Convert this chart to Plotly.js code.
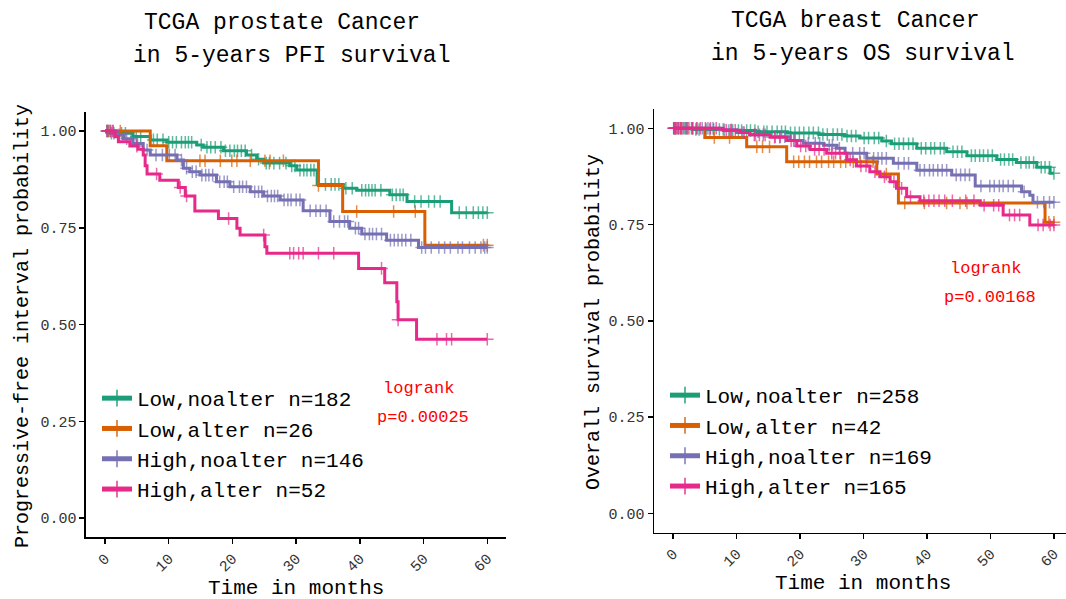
<!DOCTYPE html>
<html>
<head>
<meta charset="utf-8">
<script src="https://cdn.plot.ly/plotly-3.0.1.min.js"></script>
<style>
  html, body { margin: 0; padding: 0; background: #ffffff; }
  #chart { width: 1066px; height: 599px; }
</style>
</head>
<body>
<div id="chart"></div>
<script>
// ---------------- DATA ----------------
const groupNames = ["Low,noalter", "Low,alter", "High,noalter", "High,alter"];
const prostateN = [182, 26, 146, 52];
const breastN = [258, 42, 169, 165];
const xTicks = [0, 10, 20, 30, 40, 50, 60];
const yTicks = [0, 0.25, 0.5, 0.75, 1];
const yTickText = ["0.00", "0.25", "0.50", "0.75", "1.00"];

// Prostate (PFI) - step times (months) and survival after each step
const proLowNoT = [0, 0.8, 4.4, 7.1, 9.7, 14.4, 15.4, 18.6, 22.2, 23.8, 24.9, 29.0, 30.1, 33.3, 37.4, 39.5, 44.7, 47.4, 54.4];
const proLowNoS = [1, 0.994, 0.986, 0.977, 0.971, 0.964, 0.958, 0.949, 0.938, 0.927, 0.917, 0.910, 0.899, 0.862, 0.852, 0.847, 0.835, 0.818, 0.789];
const proLowNoC = [0.3,0.6,1.0,1.4,2.6,3.2,4.9,5.6,7.6,8.2,9.1,10.0,10.6,11.2,12.0,12.6,13.1,13.6,15.1,16.0,16.6,17.3,18.2,18.9,19.6,20.3,20.8,21.4,22.0,23.0,24.1,25.3,25.8,26.5,27.4,28.4,29.3,29.8,30.6,31.2,31.7,32.3,32.8,34.6,35.5,36.1,36.7,37.8,38.8,40.3,40.9,41.4,41.9,42.4,43.3,45.1,45.7,46.3,46.8,48.6,49.6,50.8,51.7,52.6,55.6,56.7,57.8,58.6,59.3,60.0];

const proLowAltT = [0, 7.1, 9.7, 33.5, 37.3, 50.2];
const proLowAltS = [1, 0.962, 0.923, 0.859, 0.792, 0.705];
const proLowAltC = [0.5,2.4,14.9,15.7,18.1,19.9,20.7,22.8,25.1,25.9,28.0,33.5,39.5,45.3,48.7,59.4,60.0];

const proHighNoT = [0, 1.8, 2.9, 4.4, 6.0, 7.1, 11.3, 12.3, 13.3, 14.9, 17.5, 19.6, 22.8, 24.9, 27.5, 31.1, 35.3, 38.4, 40.3, 44.2, 49.2];
const proHighNoS = [1, 0.99, 0.98, 0.968, 0.951, 0.938, 0.925, 0.904, 0.895, 0.886, 0.869, 0.856, 0.843, 0.832, 0.822, 0.794, 0.766, 0.749, 0.734, 0.718, 0.699];
const proHighNoC = [0.4,0.9,1.3,2.2,3.4,4.1,5.1,6.6,8.0,9.0,10.1,11.0,12.0,12.8,13.7,14.3,15.2,15.8,16.3,16.9,18.0,18.7,19.2,20.2,21.1,21.6,22.2,23.5,24.1,24.6,25.5,26.1,26.6,27.1,28.1,28.7,29.2,30.0,30.6,32.2,33.1,33.8,34.7,35.9,36.8,37.6,38.1,39.3,39.8,40.8,41.5,42.0,42.6,43.4,44.8,45.4,46.0,46.6,47.2,48.0,49.7,50.3,51.2,52.4,53.3,54.2,55.4,56.1,57.2,58.1,59.0,59.6,60.0];

const proHighAltT = [0, 1.6, 2.1, 3.9, 5.2, 6.0, 6.3, 6.6, 8.6, 11.5, 12.6, 14.1, 17.8, 20.7, 21.2, 25.1, 25.4, 39.8, 43.9, 45.8, 46.0, 48.9];
const proHighAltS = [1, 0.985, 0.972, 0.961, 0.953, 0.938, 0.91, 0.889, 0.873, 0.854, 0.832, 0.793, 0.774, 0.749, 0.731, 0.701, 0.684, 0.645, 0.608, 0.559, 0.512, 0.462];
const proHighAltC = [0.3,0.8,1.2,5.0,8.1,11.8,12.8,19.4,24.9,29.0,29.6,30.4,31.1,33.5,35.9,43.4,46.0,52.1,53.6,54.4,60.0];

// Breast (OS)
const brLowNoT = [0, 3, 8, 13, 18, 23, 27, 29.4, 32.9, 34.4, 38.4, 43.1, 46.3, 51.0, 54.1, 57.3, 59.4];
const brLowNoS = [1, 0.997, 0.994, 0.991, 0.988, 0.984, 0.980, 0.975, 0.967, 0.960, 0.948, 0.939, 0.929, 0.919, 0.911, 0.899, 0.883];
const brLowNoC = [0.1,0.4,0.9,1.3,1.8,2.2,2.9,3.6,4.1,5.2,5.8,6.4,7.3,7.9,8.8,9.4,10.3,10.8,11.6,12.2,12.9,13.4,14.3,14.8,15.6,16.4,17.1,17.7,18.5,19.2,19.9,20.6,21.4,22.1,22.9,23.6,24.3,25.2,25.9,26.6,27.4,28.1,28.8,30.1,30.8,31.7,32.4,33.6,34.9,35.6,36.3,37.1,37.8,39.1,39.8,40.6,41.2,42.1,42.7,44.1,44.8,45.5,47.0,47.6,48.3,48.9,49.6,50.3,51.6,52.2,52.9,53.5,54.8,55.6,56.1,56.8,58.0,58.6,59.3,60.0];

const brLowAltT = [0, 5.0, 11.6, 17.9, 32.1, 35.5, 58.6];
const brLowAltS = [1, 0.976, 0.952, 0.913, 0.881, 0.806, 0.756];
const brLowAltC = [0.4,1.2,2.3,3.1,6.5,8.9,13.2,14.1,15.2,19.0,19.8,20.7,21.5,22.6,23.4,24.5,25.3,26.4,27.2,28.4,29.5,30.6,31.5,33.6,36.5,39.6,43.1,45.2,46.3,59.2,60.0];

const brHighNoT = [0, 7.4, 10.0, 12.1, 15.3, 18.4, 20.5, 23.7, 25.8, 27.1, 30.5, 34.7, 38.4, 43.9, 47.6, 54.9, 56.2, 56.7];
const brHighNoS = [1, 0.996, 0.989, 0.983, 0.978, 0.968, 0.961, 0.956, 0.948, 0.935, 0.922, 0.909, 0.891, 0.879, 0.850, 0.835, 0.826, 0.808];
const brHighNoC = [0.2,0.7,1.4,2.1,3.0,3.8,4.6,5.5,6.3,8.1,9.2,11.0,13.0,14.2,16.1,16.9,17.6,19.2,21.3,22.4,23.1,24.6,25.1,26.2,28.3,29.4,30.1,31.6,32.3,32.9,33.6,35.5,36.4,37.1,38.9,39.6,40.4,41.0,41.7,42.4,43.1,44.6,45.3,46.0,46.7,48.5,49.9,50.6,51.4,52.0,52.8,53.6,55.3,57.4,58.4,59.3,60.0];

const brHighAltT = [0, 7.9, 10.6, 12.1, 15.3, 17.9, 19.5, 21.6, 24.2, 27.4, 28.9, 31.0, 32.6, 34.2, 35.2, 36.8, 38.9, 48.4, 52.0, 56.2];
const brHighAltS = [1, 0.995, 0.989, 0.983, 0.977, 0.968, 0.954, 0.945, 0.935, 0.918, 0.902, 0.887, 0.874, 0.861, 0.844, 0.822, 0.812, 0.800, 0.775, 0.749];
const brHighAltC = [0.1,0.3,0.6,0.9,1.2,1.6,2.0,2.5,3.1,3.7,4.3,5.1,5.9,6.8,8.4,9.1,9.8,11.2,12.8,13.6,14.5,16.0,16.8,18.6,19.0,20.1,20.9,22.3,23.0,23.8,25.0,25.6,26.3,27.9,29.6,30.4,31.8,33.3,34.8,36.0,37.4,39.5,40.3,41.1,41.9,42.8,44.0,46.1,47.4,49.0,50.5,51.3,53.0,53.8,54.6,57.5,58.3,59.4,60.0];

const colors = ["#1B9E77", "#D95F02", "#7570B3", "#E7298A"];
const fontMono = "Liberation Mono, DejaVu Sans Mono, monospace";

// ---------------- BUILD ----------------
function stepValue(T, S, t) {
  let v = S[0];
  for (let i = 0; i < T.length; i++) { if (T[i] <= t) v = S[i]; }
  return v;
}
function buildTrace(T, S, C, name, color, xa, ya, legendId) {
  const pts = [];
  T.forEach((t, i) => pts.push({ t: t, s: S[i], c: 0 }));
  C.forEach(t => pts.push({ t: t, s: stepValue(T, S, t), c: 1 }));
  pts.sort((a, b) => a.t - b.t || a.c - b.c);
  return {
    type: "scatter",
    mode: "lines+markers",
    x: pts.map(p => p.t),
    y: pts.map(p => p.s),
    xaxis: xa, yaxis: ya,
    name: name,
    legend: legendId,
    line: { shape: "hv", color: color, width: 3 },
    marker: {
      symbol: "cross-thin",
      size: pts.map(p => p.c ? 9 : 0),
      color: color,
      line: { color: color, width: 1.5 }
    },
    hoverinfo: "skip"
  };
}

const proSets = [
  [proLowNoT, proLowNoS, proLowNoC],
  [proLowAltT, proLowAltS, proLowAltC],
  [proHighNoT, proHighNoS, proHighNoC],
  [proHighAltT, proHighAltS, proHighAltC]
];
const brSets = [
  [brLowNoT, brLowNoS, brLowNoC],
  [brLowAltT, brLowAltS, brLowAltC],
  [brHighNoT, brHighNoS, brHighNoC],
  [brHighAltT, brHighAltS, brHighAltC]
];

const traces = [];
proSets.forEach((d, i) => traces.push(buildTrace(d[0], d[1], d[2], groupNames[i] + " n=" + prostateN[i], colors[i], "x", "y", "legend")));
brSets.forEach((d, i) => traces.push(buildTrace(d[0], d[1], d[2], groupNames[i] + " n=" + breastN[i], colors[i], "x2", "y2", "legend2")));

const W = 1066, H = 599;
const px = x => x / W;
const py = y => 1 - y / H;

const axisCommon = {
  showline: true, linecolor: "#000", linewidth: 1.5,
  ticks: "outside", ticklen: 5, tickwidth: 1.5, tickcolor: "#000",
  showgrid: false, zeroline: false,
  tickfont: { family: fontMono, size: 15, color: "#333" },
  fixedrange: true
};

const layout = {
  width: W, height: H,
  margin: { l: 0, r: 0, t: 0, b: 0 },
  paper_bgcolor: "#fff", plot_bgcolor: "#fff",
  showlegend: true,
  xaxis: Object.assign({}, axisCommon, { domain: [px(85.9), px(506.4)], range: [-3, 63], anchor: "y", tickvals: xTicks, ticktext: xTicks.map(String), tickangle: -45 }),
  yaxis: Object.assign({}, axisCommon, { domain: [py(537.35), py(111.65)], range: [-0.05, 1.05], anchor: "x", tickvals: yTicks, ticktext: yTickText }),
  xaxis2: Object.assign({}, axisCommon, { domain: [px(654), 1], range: [-3, 61.9], anchor: "y2", tickvals: xTicks, ticktext: xTicks.map(String), tickangle: -45 }),
  yaxis2: Object.assign({}, axisCommon, { domain: [py(532.55), py(109.05)], range: [-0.05, 1.05], anchor: "x2", tickvals: yTicks, ticktext: yTickText }),
  legend: {
    x: px(97), y: py(378), xanchor: "left", yanchor: "top",
    bgcolor: "rgba(0,0,0,0)", font: { family: fontMono, size: 21, color: "#000" },
    itemsizing: "constant", tracegroupgap: 0
  },
  legend2: {
    x: px(665), y: py(375), xanchor: "left", yanchor: "top",
    bgcolor: "rgba(0,0,0,0)", font: { family: fontMono, size: 21, color: "#000" },
    itemsizing: "constant", tracegroupgap: 0
  },
  annotations: [
    { text: "TCGA prostate Cancer", x: px(282), y: py(23), xref: "paper", yref: "paper", showarrow: false, xanchor: "center", yanchor: "middle", font: { family: fontMono, size: 23, color: "#000" } },
    { text: "in 5-years PFI survival", x: px(291), y: py(56), xref: "paper", yref: "paper", showarrow: false, xanchor: "center", yanchor: "middle", font: { family: fontMono, size: 23, color: "#000" } },
    { text: "TCGA breast Cancer", x: px(855), y: py(21), xref: "paper", yref: "paper", showarrow: false, xanchor: "center", yanchor: "middle", font: { family: fontMono, size: 23, color: "#000" } },
    { text: "in 5-years OS survival", x: px(863), y: py(54), xref: "paper", yref: "paper", showarrow: false, xanchor: "center", yanchor: "middle", font: { family: fontMono, size: 23, color: "#000" } },
    { text: "Progressive-free interval probability", x: px(22), y: py(326), xref: "paper", yref: "paper", showarrow: false, textangle: -90, xanchor: "center", yanchor: "middle", font: { family: fontMono, size: 20, color: "#000" } },
    { text: "Overall survival probability", x: px(593), y: py(322), xref: "paper", yref: "paper", showarrow: false, textangle: -90, xanchor: "center", yanchor: "middle", font: { family: fontMono, size: 20, color: "#000" } },
    { text: "Time in months", x: px(296), y: py(588), xref: "paper", yref: "paper", showarrow: false, xanchor: "center", yanchor: "middle", font: { family: fontMono, size: 21, color: "#000" } },
    { text: "Time in months", x: px(863), y: py(583), xref: "paper", yref: "paper", showarrow: false, xanchor: "center", yanchor: "middle", font: { family: fontMono, size: 21, color: "#000" } },
    { text: "logrank", x: px(418), y: py(388), xref: "paper", yref: "paper", showarrow: false, xanchor: "center", yanchor: "middle", font: { family: fontMono, size: 17, color: "#FF0000" } },
    { text: "p=0.00025", x: px(423), y: py(417), xref: "paper", yref: "paper", showarrow: false, xanchor: "center", yanchor: "middle", font: { family: fontMono, size: 17, color: "#FF0000" } },
    { text: "logrank", x: px(985), y: py(268), xref: "paper", yref: "paper", showarrow: false, xanchor: "center", yanchor: "middle", font: { family: fontMono, size: 17, color: "#FF0000" } },
    { text: "p=0.00168", x: px(990), y: py(297), xref: "paper", yref: "paper", showarrow: false, xanchor: "center", yanchor: "middle", font: { family: fontMono, size: 17, color: "#FF0000" } }
  ]
};

Plotly.newPlot("chart", traces, layout, { displayModeBar: false, staticPlot: true });
</script>
</body>
</html>
